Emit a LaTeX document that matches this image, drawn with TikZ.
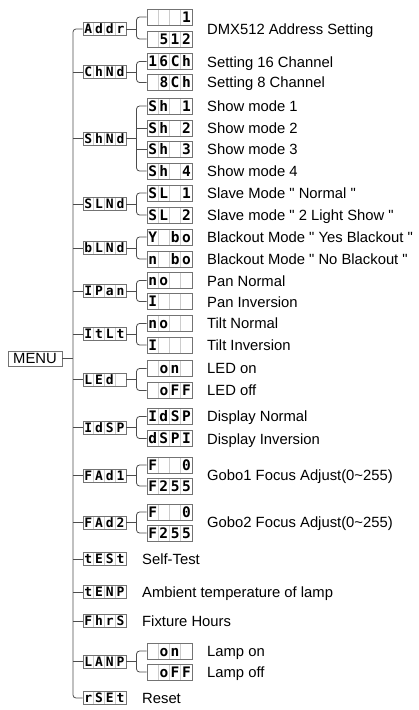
\documentclass[tikz,border=0pt]{standalone}
\usepackage{fontspec}
\setmainfont{Liberation Sans}
\newfontfamily\lcdf{DejaVu Sans Mono}
\usetikzlibrary{calc}
\newlength\lcdw
\newcommand\lcdc[4]{\makebox[\lcdw]{#1}\makebox[\lcdw]{#2}\makebox[\lcdw]{#3}\makebox[\lcdw]{#4}}
\newcommand\qd{\textquotedbl}
\tikzset{
  lcdbase/.style={draw=black!55, line width=0.9pt, fill=white, inner sep=0pt, text depth=0pt,
    path picture={\foreach \i in {1,2,3}{\draw[black!20, line width=0.6pt]
      ($(path picture bounding box.south west)!\i/4!(path picture bounding box.south east)$) --
      ($(path picture bounding box.north west)!\i/4!(path picture bounding box.north east)$);}}},
  pbox/.style={lcdbase, minimum width=43pt, minimum height=13pt, text height=9.4pt,
    font={\setlength\lcdw{10.75pt}\lcdf\bfseries\fontsize{13}{13}\selectfont}},
  cbox/.style={lcdbase, minimum width=45pt, minimum height=16pt, text height=10.6pt,
    font={\setlength\lcdw{11.25pt}\lcdf\bfseries\fontsize{14.5}{15}\selectfont}},
  lbl/.style={anchor=west, inner sep=0pt, text height=10.6pt, text depth=0pt,
    font=\fontsize{14.8}{16}\selectfont},
  conn/.style={draw=black!70, line width=0.8pt},
  menubox/.style={draw=black!55, line width=0.9pt, minimum width=54pt, minimum height=15pt,
    inner sep=0pt, text height=10.6pt, text depth=0pt, font=\fontsize{14.8}{16}\selectfont},
}
\begin{document}
\begin{tikzpicture}[x=1pt,y=-1pt]
\useasboundingbox (0,0) rectangle (418,710);
\coordinate (T) at (73,0);
% MENU
\node[menubox] (MENU) at (35,358.5) {MENU};
% parent boxes
\node[pbox] (Addr) at (104.5,29) {\lcdc{A}{d}{d}{r}};
\node[pbox] (ChNd) at (104.5,72) {\lcdc{C}{h}{N}{d}};
\node[pbox] (ShNd) at (104.5,138.5) {\lcdc{S}{h}{N}{d}};
\node[pbox] (SLNd) at (104.5,204) {\lcdc{S}{L}{N}{d}};
\node[pbox] (bLNd) at (104.5,248) {\lcdc{b}{L}{N}{d}};
\node[pbox] (IPan) at (104.5,291) {\lcdc{I}{P}{a}{n}};
\node[pbox] (ItLt) at (104.5,334) {\lcdc{I}{t}{L}{t}};
\node[pbox] (LEd) at (104.5,379.5) {\lcdc{L}{E}{d}{}};
\node[pbox] (IdSP) at (104.5,427.5) {\lcdc{I}{d}{S}{P}};
\node[pbox] (FAd1) at (104.5,475.5) {\lcdc{F}{A}{d}{1}};
\node[pbox] (FAd2) at (104.5,522.5) {\lcdc{F}{A}{d}{2}};
\node[pbox] (tESt) at (104.5,559) {\lcdc{t}{E}{S}{t}};
\node[pbox] (tENP) at (104.5,592) {\lcdc{t}{E}{N}{P}};
\node[pbox] (FhrS) at (104.5,621) {\lcdc{F}{h}{r}{S}};
\node[pbox] (LANP) at (104.5,661.5) {\lcdc{L}{A}{N}{P}};
\node[pbox] (rSEt) at (104.5,698) {\lcdc{r}{S}{E}{t}};
% child boxes
\node[cbox] (Addr1) at (169.5,17) {\lcdc{}{}{}{1}};
\node[cbox] (Addr2) at (169.5,39) {\lcdc{}{5}{1}{2}};
\node[cbox] (ChNd1) at (169.5,61.5) {\lcdc{1}{6}{C}{h}};
\node[cbox] (ChNd2) at (169.5,82.5) {\lcdc{}{8}{C}{h}};
\node[cbox] (Sh1) at (169.5,106) {\lcdc{S}{h}{}{1}};
\node[cbox] (Sh2) at (169.5,128) {\lcdc{S}{h}{}{2}};
\node[cbox] (Sh3) at (169.5,149.5) {\lcdc{S}{h}{}{3}};
\node[cbox] (Sh4) at (169.5,171) {\lcdc{S}{h}{}{4}};
\node[cbox] (SL1) at (169.5,193) {\lcdc{S}{L}{}{1}};
\node[cbox] (SL2) at (169.5,215) {\lcdc{S}{L}{}{2}};
\node[cbox] (bL1) at (169.5,237) {\lcdc{Y}{}{b}{o}};
\node[cbox] (bL2) at (169.5,259) {\lcdc{n}{}{b}{o}};
\node[cbox] (Pan1) at (169.5,280.5) {\lcdc{n}{o}{}{}};
\node[cbox] (Pan2) at (169.5,301.5) {\lcdc{I}{}{}{}};
\node[cbox] (Tlt1) at (169.5,323.5) {\lcdc{n}{o}{}{}};
\node[cbox] (Tlt2) at (169.5,345) {\lcdc{I}{}{}{}};
\node[cbox] (LEd1) at (169.5,368.5) {\lcdc{}{o}{n}{}};
\node[cbox] (LEd2) at (169.5,390.5) {\lcdc{}{o}{F}{F}};
\node[cbox] (dSP1) at (169.5,416.5) {\lcdc{I}{d}{S}{P}};
\node[cbox] (dSP2) at (169.5,438.5) {\lcdc{d}{S}{P}{I}};
\node[cbox] (FA11) at (169.5,465) {\lcdc{F}{}{}{0}};
\node[cbox] (FA12) at (169.5,486) {\lcdc{F}{2}{5}{5}};
\node[cbox] (FA21) at (169.5,512) {\lcdc{F}{}{}{0}};
\node[cbox] (FA22) at (169.5,533) {\lcdc{F}{2}{5}{5}};
\node[cbox] (LA1) at (169.5,651) {\lcdc{}{o}{n}{}};
\node[cbox] (LA2) at (169.5,672) {\lcdc{}{o}{F}{F}};
% labels
\node[lbl] (tAddr) at (207,29) {DMX512 Address Setting};
\node[lbl] (tCh1) at (207,62) {Setting 16 Channel};
\node[lbl] (tCh2) at (207,82.5) {Setting 8 Channel};
\node[lbl] (tSh1) at (207,106) {Show mode 1};
\node[lbl] (tSh2) at (207,128) {Show mode 2};
\node[lbl] (tSh3) at (207,149.5) {Show mode 3};
\node[lbl] (tSh4) at (207,171) {Show mode 4};
\node[lbl] (tSL1) at (207,193) {Slave Mode \qd{} Normal \qd};
\node[lbl] (tSL2) at (207,215.5) {Slave mode \qd{} 2 Light Show \qd};
\node[lbl] (tbL1) at (207,237) {Blackout Mode \qd{} Yes Blackout \qd};
\node[lbl] (tbL2) at (207,259) {Blackout Mode \qd{} No Blackout \qd};
\node[lbl] (tPa1) at (207,281) {Pan Normal};
\node[lbl] (tPa2) at (207,302) {Pan Inversion};
\node[lbl] (tTi1) at (207,323) {Tilt Normal};
\node[lbl] (tTi2) at (207,345) {Tilt Inversion};
\node[lbl] (tLE1) at (207,368) {LED on};
\node[lbl] (tLE2) at (207,390.5) {LED off};
\node[lbl] (tDS1) at (207,416) {Display Normal};
\node[lbl] (tDS2) at (207,439) {Display Inversion};
\node[lbl] (tFA1) at (207,475) {Gobo1 Focus Adjust(0\textasciitilde255)};
\node[lbl] (tFA2) at (207,522) {Gobo2 Focus Adjust(0\textasciitilde255)};
\node[lbl] (tTe) at (142,559) {Self-Test};
\node[lbl] (tTm) at (142,592) {Ambient temperature of lamp};
\node[lbl] (tFh) at (142,621) {Fixture Hours};
\node[lbl] (tLA1) at (207,651.5) {Lamp on};
\node[lbl] (tLA2) at (207,672.5) {Lamp off};
\node[lbl] (tRs) at (142,698) {Reset};
% trunk
\draw[conn] (MENU.east) -- (T |- MENU.east);
\draw[conn, rounded corners=3pt] (Addr.west) -- (T |- Addr.west) -- (T |- rSEt.west) -- (rSEt.west);
\foreach \n in {ChNd,ShNd,SLNd,bLNd,IPan,ItLt,LEd,IdSP,FAd1,FAd2,tESt,tENP,FhrS,LANP}
  \draw[conn] (T |- \n.west) -- (\n.west);
% brackets
\foreach \p/\a/\b in {Addr/Addr1/Addr2, ChNd/ChNd1/ChNd2, ShNd/Sh1/Sh4, SLNd/SL1/SL2,
  bLNd/bL1/bL2, IPan/Pan1/Pan2, ItLt/Tlt1/Tlt2, LEd/LEd1/LEd2, IdSP/dSP1/dSP2,
  FAd1/FA11/FA12, FAd2/FA21/FA22, LANP/LA1/LA2}{
  \draw[conn] (\p.east) -- ++(11,0);
  \draw[conn, rounded corners=3pt] (\a.west) -- ++(-10,0) |- (\b.west);
}
\draw[conn] (Sh2.west) -- ++(-10,0);
\draw[conn] (Sh3.west) -- ++(-10,0);
\end{tikzpicture}
\end{document}
